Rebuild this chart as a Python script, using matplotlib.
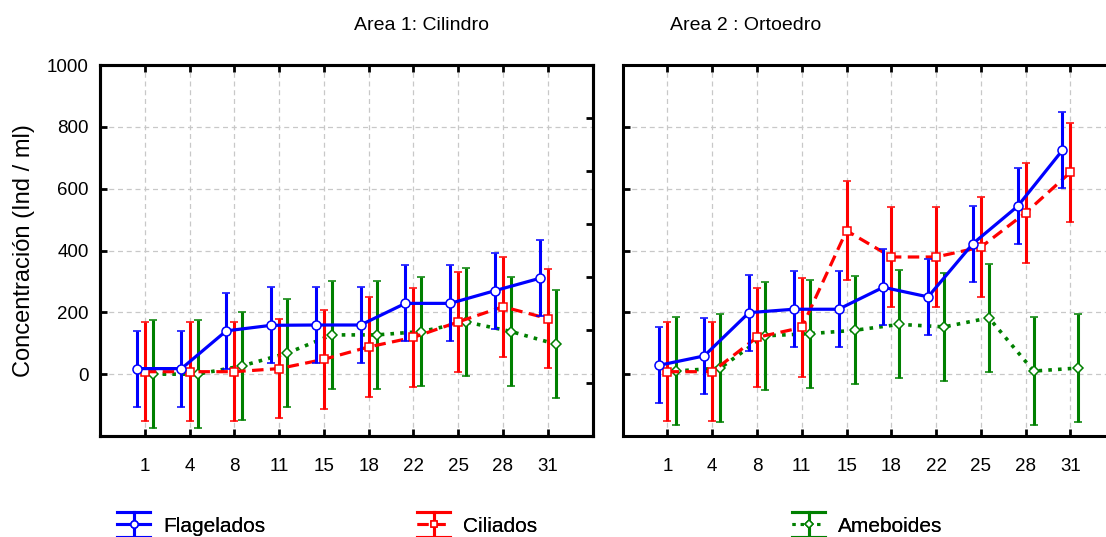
import numpy as np
import matplotlib
matplotlib.use('Agg')
import matplotlib.pyplot as plt
from matplotlib.lines import Line2D
from matplotlib.legend_handler import HandlerBase

plt.rcParams['font.family'] = ['Liberation Sans', 'DejaVu Sans']

days = ['1', '4', '8', '11', '15', '18', '22', '25', '28', '31']

# Area 1: Cilindro
flag_a1 = [18, 18, 140, 158, 159, 159, 229, 229, 270, 310]
cil_a1 = [8, 8, 8, 18, 48, 88, 119, 169, 218, 180]
ame_a1 = [0, 0, 27, 68, 127, 127, 138, 169, 138, 97]

# Area 2: Ortoedro
flag_a2 = [29, 59, 199, 210, 210, 281, 250, 422, 543, 724]
cil_a2 = [8, 8, 119, 151, 464, 379, 379, 411, 522, 653]
ame_a2 = [10, 20, 124, 131, 142, 161, 153, 182, 10, 20]

# half width of the error bars (same for every day)
err_flag = 123
err_cil = 161
err_ame = 175

titles = ['Area 1: Cilindro', 'Area 2 : Ortoedro']
title_x = [422, 746]
labels = ['Flagelados', 'Ciliados', 'Ameboides']

blue = '#0000ff'
red = '#ff0000'
green = '#008000'

dash = (0, (3.6, 2))
dots = (0, (1, 1.7))

styles = [(blue, '-', 'o', 6.5), (red, dash, 's', 6), (green, dots, 'D', 5.5)]


class ErrKey:
    def __init__(self, color, ls, marker, ms):
        self.color, self.ls, self.marker, self.ms = color, ls, marker, ms


class ErrKeyHandler(HandlerBase):
    # legend key: line with marker, vertical error bar and wide caps
    def create_artists(self, legend, orig, xd, yd, width, height, fontsize, trans):
        x0, x1 = -xd, -xd + width
        xm = (x0 + x1) / 2
        ym = -yd + height / 2
        top = ym + height * 0.85
        bot = ym - height * 0.85
        c = orig.color
        arts = [
            Line2D([x0, x1], [ym, ym], color=c, ls=orig.ls, lw=2.2),
            Line2D([xm, xm], [bot, top], color=c, lw=2.2),
            Line2D([x0, x1], [top, top], color=c, lw=2.2),
            Line2D([x0, x1], [bot, bot], color=c, lw=2.2),
            Line2D([xm], [ym], marker=orig.marker, ms=orig.ms * 0.8, mfc='white',
                   mec=c, mew=1.1, ls='none'),
        ]
        for a in arts:
            a.set_transform(trans)
        return arts


W, H = 1106, 537
fig = plt.figure(figsize=(W / 100, H / 100), dpi=100)

ax_w = (592.5 - 100) / W
ax_y = 1 - 436 / H
ax_h = (436 - 65) / H
ax1 = fig.add_axes([100 / W, ax_y, ax_w, ax_h])
ax2 = fig.add_axes([622.7 / W, ax_y, ax_w, ax_h])

x = np.arange(1, len(days) + 1)
off = 0.18

for ax, fl, ci, am in [(ax1, flag_a1, cil_a1, ame_a1), (ax2, flag_a2, cil_a2, ame_a2)]:
    series = [(x - off, fl, err_flag, 4), (x, ci, err_cil, 3), (x + off, am, err_ame, 2)]
    for (xs, ys, e, z), (c, ls, m, ms) in zip(series, styles):
        ax.errorbar(xs, ys, yerr=e, color=c, ls=ls, lw=2.3 if c != green else 2.6,
                    marker=m, ms=ms, mfc='white', mec=c, mew=1.1,
                    elinewidth=2.2, capsize=3, capthick=2.2, zorder=z)

    ax.set_xlim(0, 11)
    ax.set_ylim(-200, 1000)
    ax.set_xticks(x)
    ax.set_xticklabels(days, fontsize=13.5)
    ax.set_yticks([0, 200, 400, 600, 800, 1000])
    ax.grid(True, ls=(0, (4, 3)), color='#c8c8c8', lw=0.9)
    ax.set_axisbelow(True)
    ax.tick_params(axis='x', direction='in', top=True, length=5, width=2, pad=16)
    ax.tick_params(axis='y', direction='in', length=5, width=2, labelsize=13.5, pad=8)
    for s in ax.spines.values():
        s.set_linewidth(2.2)

ax2.set_yticklabels([])
ax1.set_ylabel('Concentración (Ind / ml)', fontsize=17, labelpad=9)

# extra ticks on the right side of the first panel
tw = ax1.twinx()
tw.set_ylim(0, 7)
tw.set_yticks([1, 2, 3, 4, 5, 6])
tw.set_yticklabels([])
tw.tick_params(axis='y', direction='in', length=5, width=2)
for s in tw.spines.values():
    s.set_linewidth(2.2)

for t, tx in zip(titles, title_x):
    fig.text(tx / W, 1 - 25 / H, t, ha='center', va='center', fontsize=14)

leg_x = [117, 417, 792]
for st, lab, lx in zip(styles, labels, leg_x):
    key = ErrKey(*st)
    lg = fig.legend([key], [lab], loc='center left', bbox_to_anchor=(lx / W, 1 - 526 / H),
                    frameon=False, fontsize=15, handlelength=1.6, handletextpad=0.6,
                    borderpad=0, borderaxespad=0, handler_map={ErrKey: ErrKeyHandler()})
    fig.add_artist(lg)

fig.savefig('out.png', dpi=100)
